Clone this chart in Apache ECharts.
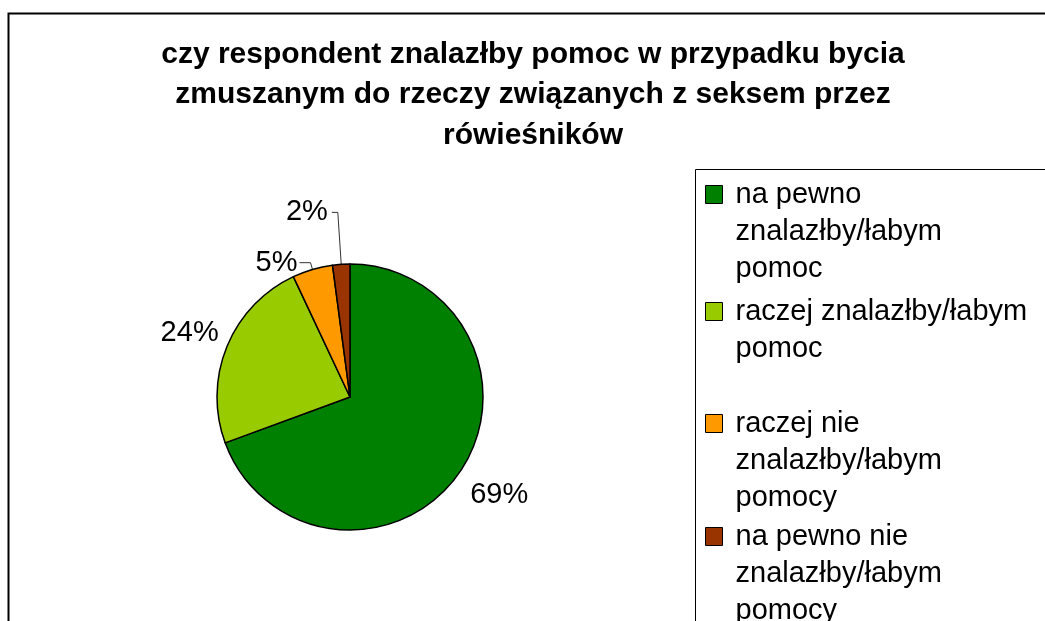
<!DOCTYPE html>
<html>
<head>
<meta charset="utf-8">
<title>pomoc - rówieśnicy</title>
<script src="https://cdn.jsdelivr.net/npm/echarts@6/dist/echarts.min.js"></script>
<style>
html, body { margin:0; padding:0; background:#fff; }
#chart { width:1045px; height:621px; }
</style>
</head>
<body>
<div id="chart"></div>
<script>
var titleText = 'czy respondent znalazłby pomoc w przypadku bycia\nzmuszanym do rzeczy związanych z seksem przez\nrówieśników';
var categories = ['na pewno\nznalazłby/łabym\npomoc', 'raczej znalazłby/łabym\npomoc', 'raczej nie\nznalazłby/łabym\npomocy', 'na pewno nie\nznalazłby/łabym\npomocy'];
var values = [69.4, 23.6, 4.9, 2.1];
var colors = ['#008000', '#99CC00', '#FF9900', '#993300'];

var font = '"Liberation Sans", Arial, sans-serif';
var lineH = 37;

// label placement for each slice (outside, line only on the small ones)
var labelSetup = [
	{show:false, length:38, length2:0, dist:-20},
	{show:false, length:36, length2:0, dist:-25},
	{show:true, length:7, length2:11, dist:2},
	{show:true, length:52, length2:6, dist:4}
];
// icon tops of the four legend entries
var legendTops = [184, 301, 413, 526];

var mychart;
function showChart(){
	mychart = echarts.init(document.getElementById('chart'));
	var data = [];
	for(var i=0;i<values.length;i++){
		data.push({
			value: values[i],
			name: categories[i],
			label: { distanceToLabelLine: labelSetup[i].dist },
			labelLine: { show: labelSetup[i].show, length: labelSetup[i].length, length2: labelSetup[i].length2 }
		});
	}
	var legends = [];
	for(var k=0;k<categories.length;k++){
		var nLines = categories[k].split('\n').length;
		legends.push({
			data: [categories[k]],
			orient: 'vertical',
			left: 705,
			//box top sits above the marker by the empty lines added below
			top: legendTops[k] - ((nLines-1)*lineH + 8),
			padding: 0,
			itemWidth: 17,
			itemHeight: 18,
			icon: 'rect',
			selectedMode: false,
			itemStyle: { borderColor:'#000', borderWidth:1 },
			//empty lines in front so the marker sits beside the first line
			formatter: function(name){
				var n = name.split('\n').length;
				var pre = '';
				for(var j=1;j<n;j++){ pre += '\n'; }
				return pre + name;
			},
			textStyle: {
				fontFamily: font,
				fontSize: 29,
				color: '#000',
				lineHeight: lineH,
				padding: [0, 0, 0, 8]
			}
		});
	}
	var option = {
		animation: false,
		color: colors,
		title: {
			text: titleText,
			left: 533,
			top: 34,
			padding: 0,
			textAlign: 'center',
			textStyle: {
				fontFamily: font,
				fontSize: 30,
				fontWeight: 'bold',
				color: '#000',
				lineHeight: 40.5
			}
		},
		legend: legends,
		graphic: [
			{ type:'rect', left:6, top:11, z:-1, shape:{width:1100, height:700}, style:{fill:'none', stroke:'#000', lineWidth:2} },
			{ type:'rect', left:693, top:167, z:-1, shape:{width:500, height:500}, style:{fill:'none', stroke:'#000', lineWidth:1} }
		],
		series: [{
			type: 'pie',
			center: [350, 397],
			radius: 133,
			startAngle: 90,
			clockwise: true,
			avoidLabelOverlap: false,
			itemStyle: { borderColor:'#000', borderWidth:1.5 },
			label: {
				show: true,
				position: 'outside',
				fontFamily: font,
				fontSize: 29,
				color: '#000',
				formatter: function(p){ return Math.round(p.percent) + '%'; }
			},
			labelLine: { lineStyle: { color:'#333', width:1 }, smooth:false },
			emphasis: { disabled: true },
			data: data
		}]
	};
	mychart.setOption(option);
}
showChart();
</script>
</body>
</html>
